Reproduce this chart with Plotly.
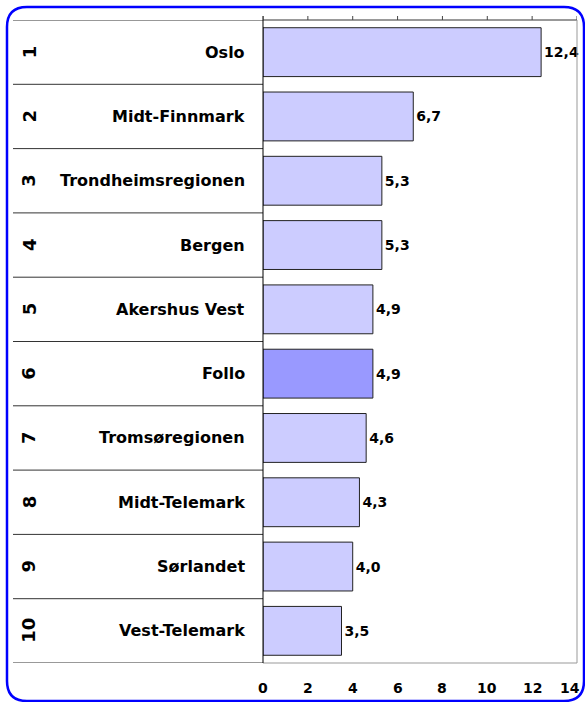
import plotly.graph_objects as go

ranks = ["1", "2", "3", "4", "5", "6", "7", "8", "9", "10"]
regions = ["Oslo", "Midt-Finnmark", "Trondheimsregionen", "Bergen", "Akershus Vest",
           "Follo", "Tromsøregionen", "Midt-Telemark", "Sørlandet", "Vest-Telemark"]
values = [12.4, 6.7, 5.3, 5.3, 4.9, 4.9, 4.6, 4.3, 4.0, 3.5]
highlight = "Follo"
x_ticks = [0, 2, 4, 6, 8, 10, 12, 14]

W, H = 585, 702
L, R, T, B = 263, 8, 20, 39
PW, PH = W - L - R, H - T - B


def px_x(px):
    return (px - L) / PW


def px_y(py):
    return (H - B - py) / PH


FONT = "DejaVu Sans"
n = len(regions)
pos = list(range(n))
colors = ["#9999FF" if r == highlight else "#CCCCFF" for r in regions]
labels = [f"{v:.1f}".replace(".", ",") for v in values]

fig = go.Figure()
fig.add_trace(go.Bar(
    x=values, y=pos, orientation="h",
    marker=dict(color=colors, line=dict(color="#222222", width=1)),
    width=0.76,
    text=labels, textposition="outside", cliponaxis=False, constraintext="none",
    textfont=dict(family=FONT, size=14, color="black", weight="bold"),
    hoverinfo="skip",
))

shapes = []
# table row lines
for k in range(n + 1):
    yk = k - 0.5
    shapes.append(dict(type="line", xref="paper", yref="y", x0=px_x(13), x1=0,
                       y0=yk, y1=yk, line=dict(color="#333333", width=1)))
# plot frame
shapes.append(dict(type="line", xref="paper", yref="paper", x0=0, x1=1, y0=1, y1=1,
                   line=dict(color="#333333", width=1)))
shapes.append(dict(type="line", xref="paper", yref="paper", x0=1, x1=1, y0=0, y1=1,
                   line=dict(color="#999999", width=1)))
shapes.append(dict(type="line", xref="paper", yref="paper", x0=0, x1=1, y0=0, y1=0,
                   line=dict(color="#999999", width=1)))
shapes.append(dict(type="line", xref="paper", yref="paper", x0=0, x1=0,
                   y0=0, y1=px_y(16), line=dict(color="black", width=1)))
# top tick marks
for t in x_ticks:
    shapes.append(dict(type="line", xref="x", yref="paper", x0=t, x1=t,
                       y0=1, y1=px_y(16), line=dict(color="#444444", width=1)))

# rounded blue border
bl, bt, br, bb, rad = 7, 7, 584, 701, 20
def P(px, py):
    return f"{px_x(px):.5f},{px_y(py):.5f}"
path = (f"M {P(bl + rad, bt)} L {P(br - rad, bt)} Q {P(br, bt)} {P(br, bt + rad)} "
        f"L {P(br, bb - rad)} Q {P(br, bb)} {P(br - rad, bb)} "
        f"L {P(bl + rad, bb)} Q {P(bl, bb)} {P(bl, bb - rad)} "
        f"L {P(bl, bt + rad)} Q {P(bl, bt)} {P(bl + rad, bt)} Z")
shapes.append(dict(type="path", xref="paper", yref="paper", path=path,
                   line=dict(color="#0000FF", width=2.5)))

annotations = []
for i in range(n):
    annotations.append(dict(x=px_x(29), y=i, xref="paper", yref="y", text=ranks[i],
                            showarrow=False, textangle=-90, xanchor="center", yanchor="middle",
                            font=dict(family=FONT, size=18, color="black", weight="bold")))
    annotations.append(dict(x=px_x(247), y=i, xref="paper", yref="y", text=regions[i],
                            showarrow=False, xanchor="right", yanchor="middle",
                            font=dict(family=FONT, size=16, color="black", weight="bold")))

# x tick labels (last one kept inside the page edge)
for j, t in enumerate(x_ticks):
    last = j == len(x_ticks) - 1
    annotations.append(dict(x=t, y=px_y(688), xref="x", yref="paper", text=str(t),
                            showarrow=False, xanchor="right" if last else "center",
                            yanchor="middle", xshift=5 if last else 0,
                            font=dict(family=FONT, size=14, color="black", weight="bold")))

fig.update_layout(
    width=W, height=H,
    margin=dict(l=L, r=R, t=T, b=B, pad=0, autoexpand=False),
    paper_bgcolor="white", plot_bgcolor="white",
    showlegend=False,
    shapes=shapes, annotations=annotations,
    xaxis=dict(range=[0, 14], showticklabels=False, ticks="",
               showgrid=False, zeroline=False, showline=False, automargin=False,
               fixedrange=True),
    yaxis=dict(range=[n - 0.5, -0.5], showticklabels=False, showgrid=False,
               zeroline=False, showline=False, ticks="", fixedrange=True, automargin=False),
)

fig.write_html("out.html", config={"displayModeBar": False},
               post_script="document.body.style.margin='0';document.body.style.overflow='hidden';")
